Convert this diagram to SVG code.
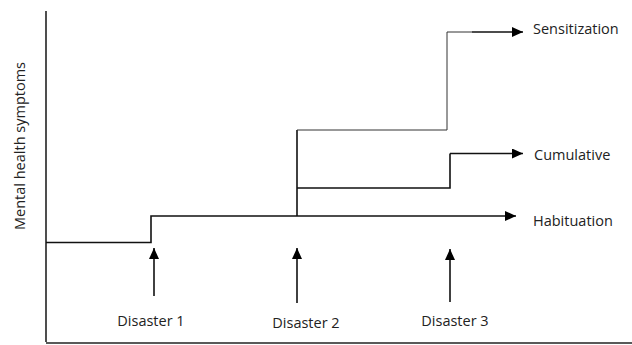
<svg xmlns="http://www.w3.org/2000/svg" width="632" height="345" viewBox="0 0 632 345">
<defs>
<marker id="ah" markerUnits="userSpaceOnUse" markerWidth="12" markerHeight="10" refX="11" refY="5" orient="auto">
<path d="M0,0 L11,5 L0,10 Z" fill="#000"/>
</marker>
<style>
.ax{stroke:#222;stroke-width:1.6;fill:none}
.ln{stroke:#111;stroke-width:1.6;fill:none}
.thin{stroke:#333;stroke-width:1;fill:none}
.ar{stroke:#111;stroke-width:1.6;fill:none;marker-end:url(#ah)}
text{font-family:"Open Sans","Liberation Sans",sans-serif;font-size:14.5px;fill:#222}
</style>
</defs>
<rect width="632" height="345" fill="#fff"/>
<g id="axes">
<line class="ax" x1="46" y1="11" x2="46" y2="342"/>
<line class="ax" x1="46" y1="343" x2="632" y2="343"/>
<text id="ylabel" transform="translate(25,146) rotate(-90)" text-anchor="middle" style="font-size:14.5px">Mental health symptoms</text>
</g>
<g id="connectors">
<polyline class="ln" points="46,242.5 151,242.5 151,216 297,216"/>
<line class="ar" x1="297" y1="216" x2="516" y2="216"/>
<polyline class="ln" points="297,216 297,130"/>
<polyline class="thin" points="297,130 447,130 447,32 472,32"/>
<line class="ar" x1="472" y1="32" x2="523" y2="32"/>
<polyline class="ln" points="297,188 450,188 450,153.5"/>
<line class="ar" x1="450" y1="153.5" x2="523" y2="153.5"/>
<line class="ar" x1="154" y1="296" x2="154" y2="248"/>
<line class="ar" x1="297" y1="303" x2="297" y2="248"/>
<line class="ar" x1="450" y1="302" x2="450" y2="249"/>
</g>
<g id="sensitization"><text x="533" y="34">Sensitization</text></g>
<g id="cumulative"><text x="534" y="160">Cumulative</text></g>
<g id="habituation"><text x="533" y="226">Habituation</text></g>
<g id="disaster1"><text x="151" y="326" text-anchor="middle">Disaster 1</text></g>
<g id="disaster2"><text x="306" y="328" text-anchor="middle">Disaster 2</text></g>
<g id="disaster3"><text x="455" y="326" text-anchor="middle">Disaster 3</text></g>
</svg>
